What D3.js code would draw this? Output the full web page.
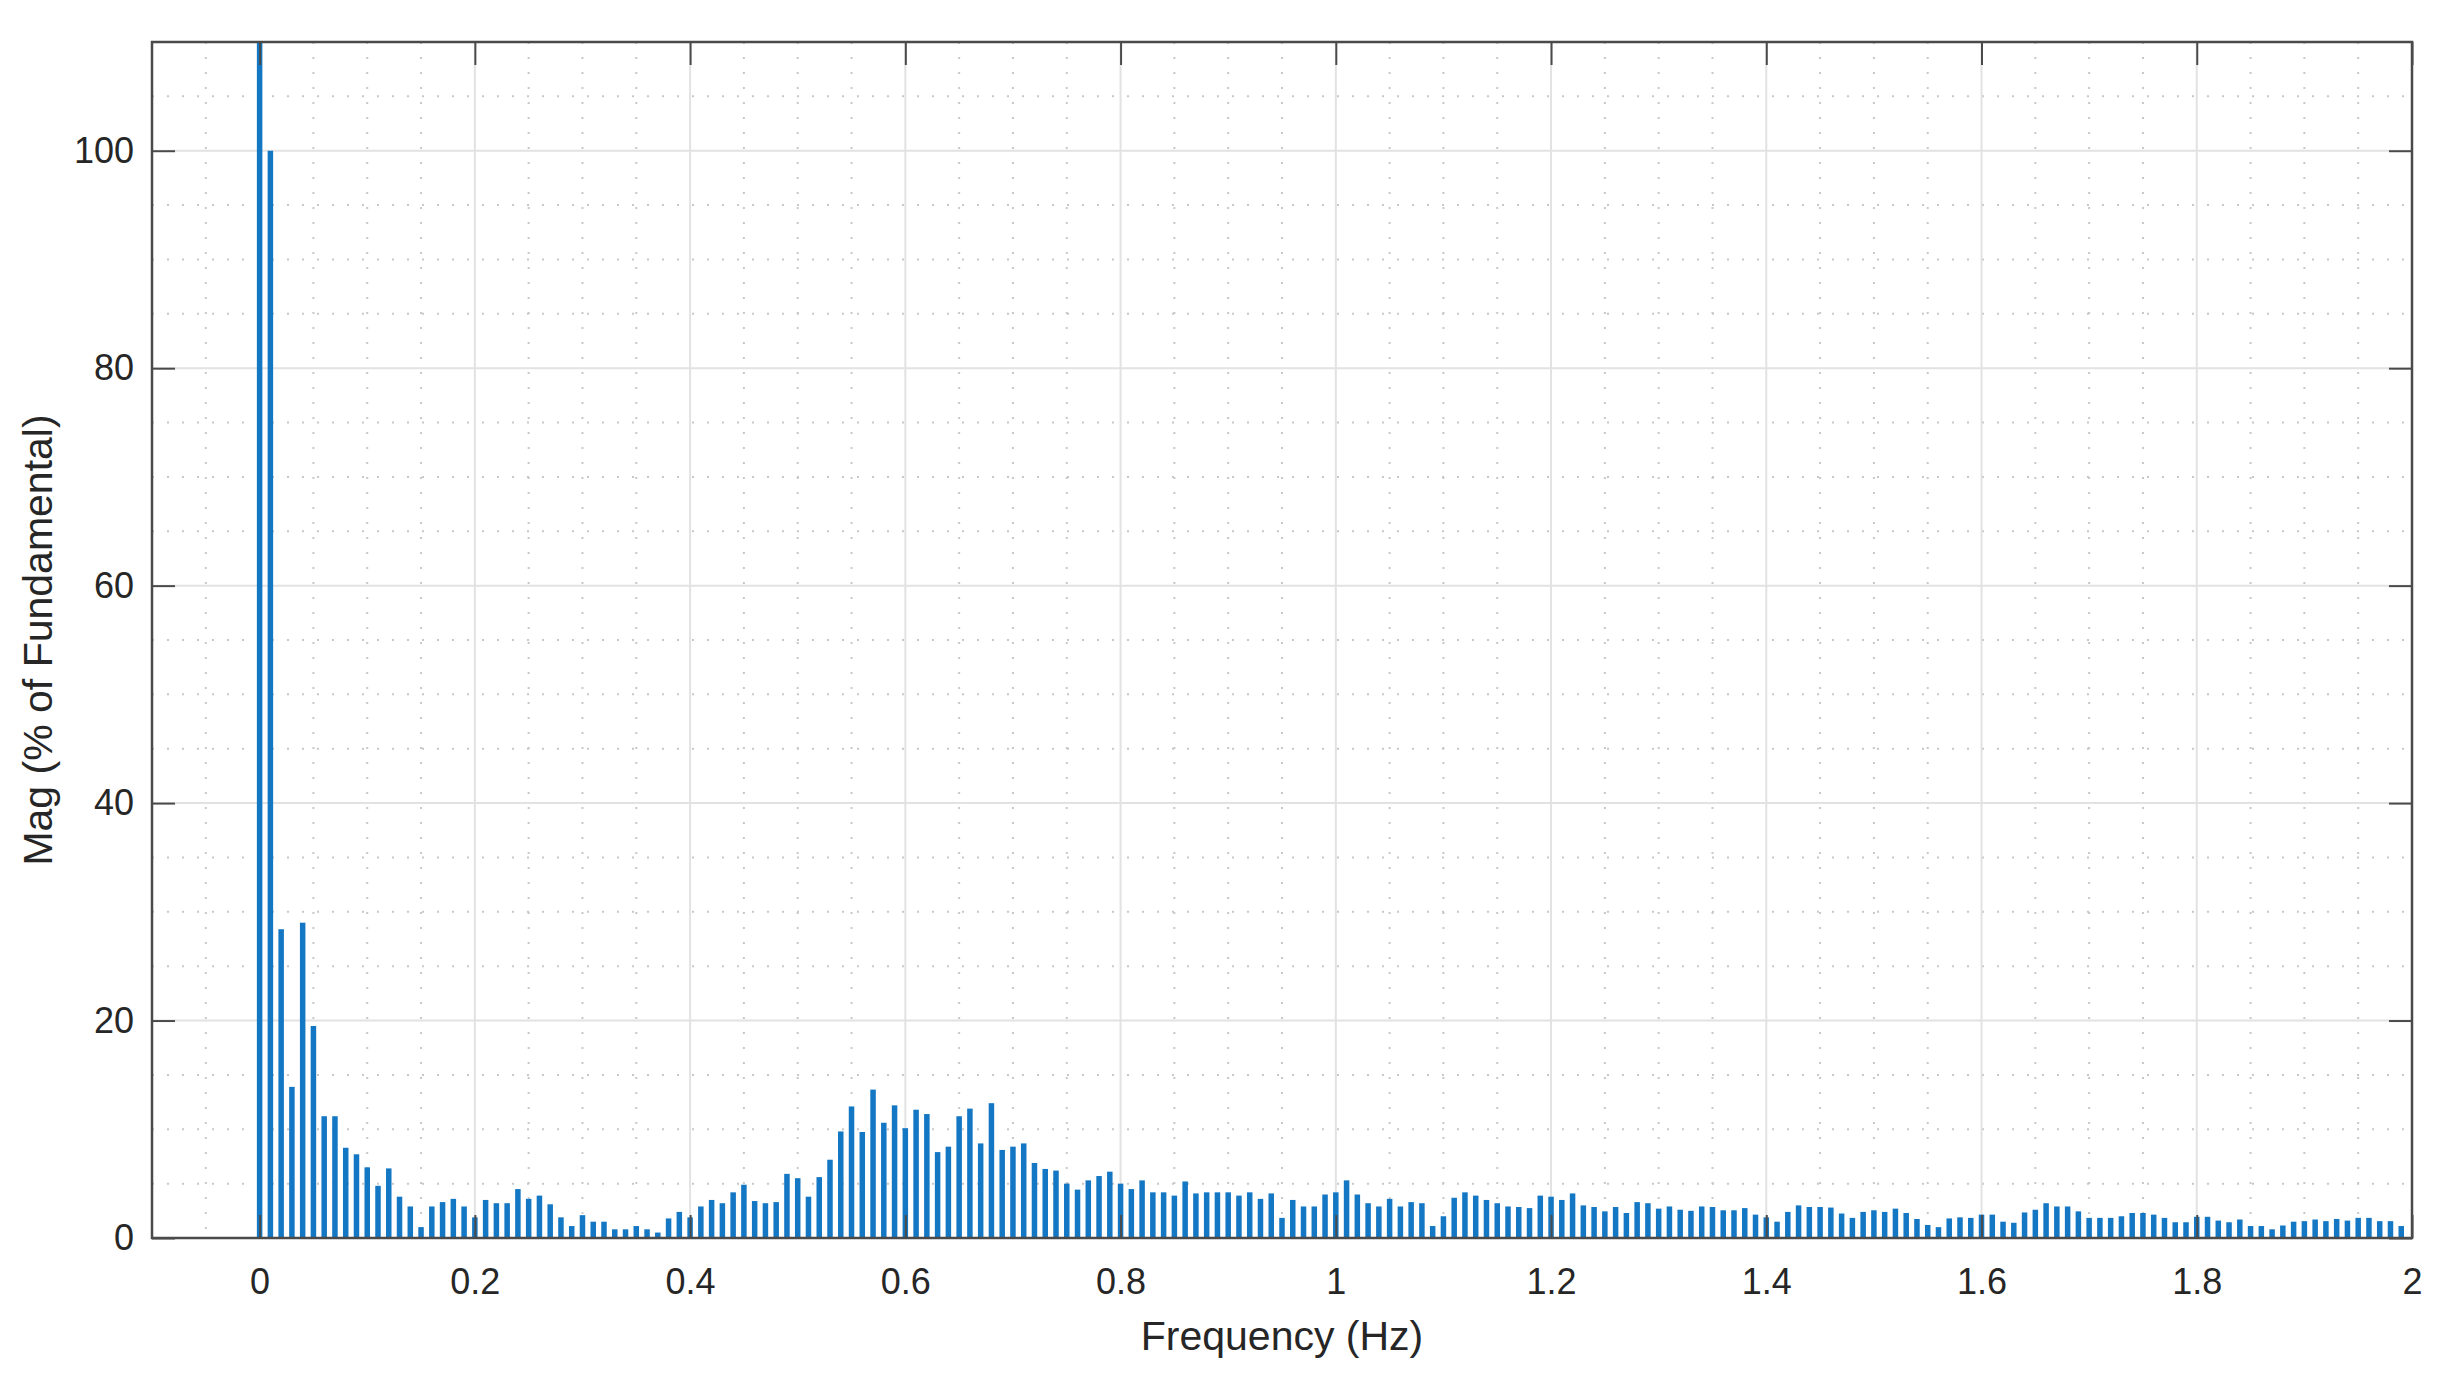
<!DOCTYPE html>
<html>
<head>
<meta charset="utf-8">
<script src="https://cdn.jsdelivr.net/npm/d3@7"></script>
<style>
    body { margin: 0; background: #ffffff; }
    svg { display: block; font-family: "Liberation Sans", Arial, Helvetica, sans-serif; }
    .tick-label { fill: #262626; font-size: 36px; }
    .axis-label { fill: #262626; font-size: 41px; }
</style>
</head>
<body>
<svg></svg>
<script>
// spectrum bins, 0.01 Hz apart, starting at 0 Hz
const binWidthHz = 0.01

// magnitude per bin (% of fundamental)
// the DC bin runs off the top of the axes, so its value is only a guess
const magnitude = [
    300, 100, 28.4, 13.9, 29.0, 19.5, 11.2, 11.2, 8.3, 7.7,
    6.5, 4.8, 6.4, 3.8, 2.9, 1.0, 2.9, 3.3, 3.6, 2.9,
    1.9, 3.5, 3.2, 3.2, 4.5, 3.6, 3.9, 3.1, 1.9, 1.1,
    2.1, 1.5, 1.5, 0.8, 0.8, 1.1, 0.8, 0.5, 1.8, 2.4,
    1.9, 2.9, 3.5, 3.2, 4.2, 4.9, 3.4, 3.2, 3.3, 5.9,
    5.5, 3.8, 5.6, 7.2, 9.8, 12.1, 9.75, 13.65, 10.6, 12.2,
    10.1, 11.8, 11.4, 7.9, 8.4, 11.2, 11.9, 8.7, 12.4, 8.1,
    8.4, 8.7, 6.9, 6.35, 6.2, 5.0, 4.45, 5.3, 5.7, 6.1,
    5.0, 4.5, 5.3, 4.2, 4.2, 3.9, 5.2, 4.1, 4.2, 4.2,
    4.2, 3.9, 4.2, 3.6, 4.1, 1.85, 3.5, 2.9, 2.9, 4.0,
    4.2, 5.3, 4.0, 3.2, 2.9, 3.6, 2.9, 3.3, 3.2, 1.1,
    2.0, 3.7, 4.2, 3.9, 3.5, 3.2, 2.9, 2.85, 2.75, 3.9,
    3.8, 3.5, 4.1, 3.0, 2.85, 2.45, 2.85, 2.3, 3.3, 3.2,
    2.7, 2.9, 2.6, 2.5, 2.9, 2.85, 2.55, 2.55, 2.75, 2.15,
    1.9, 1.5, 2.4, 3.0, 2.85, 2.85, 2.8, 2.25, 1.85, 2.4,
    2.55, 2.4, 2.7, 2.3, 1.75, 1.2, 1.0, 1.8, 1.9, 1.85,
    2.15, 2.15, 1.5, 1.4, 2.35, 2.6, 3.2, 2.9, 2.9, 2.45,
    1.85, 1.85, 1.85, 2.0, 2.3, 2.3, 2.15, 1.85, 1.45, 1.45,
    1.95, 1.95, 1.6, 1.45, 1.7, 1.1, 1.1, 0.8, 1.15, 1.5,
    1.55, 1.7, 1.55, 1.75, 1.6, 1.85, 1.85, 1.55, 1.55, 1.1
]

// axis ticks
const xTicks = [0, 0.2, 0.4, 0.6, 0.8, 1, 1.2, 1.4, 1.6, 1.8, 2]
const yTicks = [0, 20, 40, 60, 80, 100]
const xMinorTicks = [-0.05, 0.05, 0.1, 0.15, 0.25, 0.3, 0.35, 0.45, 0.5, 0.55, 0.65, 0.7, 0.75,
    0.85, 0.9, 0.95, 1.05, 1.1, 1.15, 1.25, 1.3, 1.35, 1.45, 1.5, 1.55, 1.65, 1.7, 1.75, 1.85, 1.9, 1.95]
const yMinorTicks = [5, 10, 15, 25, 30, 35, 45, 50, 55, 65, 70, 75, 85, 90, 95, 105]

const xLabel = "Frequency (Hz)"
const yLabel = "Mag (% of Fundamental)"

const data = magnitude.map((m, i) => ({ freq: i * binWidthHz, mag: m }))

const svgWidth = 2449
const svgHeight = 1382
const plotLeft = 152
const plotRight = 2412
const plotTop = 42
const plotBottom = 1238

const svg = d3.select("svg")
    .attr("width", svgWidth)
    .attr("height", svgHeight)
    .attr("viewBox", `0 0 ${svgWidth} ${svgHeight}`)

const scaleX = d3.scaleLinear()
    .domain([-0.1, 2])
    .range([plotLeft, plotRight])

const scaleY = d3.scaleLinear()
    .domain([0, 110])
    .range([plotBottom, plotTop])

svg.append("defs")
    .append("clipPath")
    .attr("id", "plot-clip")
    .append("rect")
    .attr("x", plotLeft)
    .attr("y", plotTop)
    .attr("width", plotRight - plotLeft)
    .attr("height", plotBottom - plotTop)

// minor grid, dotted
const grid = svg.append("g").attr("class", "grid")

grid.selectAll("line.minor-x")
    .data(xMinorTicks)
    .enter()
    .append("line")
    .attr("class", "minor-x")
    .attr("x1", d => scaleX(d))
    .attr("x2", d => scaleX(d))
    .attr("y1", plotTop)
    .attr("y2", plotBottom)
    .attr("stroke", "#c8c8c8")
    .attr("stroke-width", 2)
    .attr("stroke-dasharray", "2,13")

grid.selectAll("line.minor-y")
    .data(yMinorTicks)
    .enter()
    .append("line")
    .attr("class", "minor-y")
    .attr("x1", plotLeft)
    .attr("x2", plotRight)
    .attr("y1", d => scaleY(d))
    .attr("y2", d => scaleY(d))
    .attr("stroke", "#c8c8c8")
    .attr("stroke-width", 2)
    .attr("stroke-dasharray", "2,13")

// major grid, solid
grid.selectAll("line.major-x")
    .data(xTicks)
    .enter()
    .append("line")
    .attr("class", "major-x")
    .attr("x1", d => scaleX(d))
    .attr("x2", d => scaleX(d))
    .attr("y1", plotTop)
    .attr("y2", plotBottom)
    .attr("stroke", "#e2e2e2")
    .attr("stroke-width", 2)

grid.selectAll("line.major-y")
    .data(yTicks)
    .enter()
    .append("line")
    .attr("class", "major-y")
    .attr("x1", plotLeft)
    .attr("x2", plotRight)
    .attr("y1", d => scaleY(d))
    .attr("y2", d => scaleY(d))
    .attr("stroke", "#e2e2e2")
    .attr("stroke-width", 2)

// bars
const barWidth = 5.5

svg.append("g")
    .attr("class", "bars")
    .attr("clip-path", "url(#plot-clip)")
    .selectAll("rect")
    .data(data)
    .enter()
    .append("rect")
    .attr("x", d => scaleX(d.freq) - barWidth / 2)
    .attr("y", d => scaleY(d.mag))
    .attr("width", barWidth)
    .attr("height", d => scaleY(0) - scaleY(d.mag))
    .attr("fill", "#1477c4")

// axes: d3 axes on all four sides, ticks pointing inward
const tickLen = 23

const axisBottom = d3.axisBottom(scaleX)
    .tickValues(xTicks)
    .tickSizeInner(-tickLen)
    .tickSizeOuter(0)
    .tickPadding(30)
    .tickFormat(d3.format("~g"))

const axisLeft = d3.axisLeft(scaleY)
    .tickValues(yTicks)
    .tickSizeInner(-tickLen)
    .tickSizeOuter(0)
    .tickPadding(18)

const axisTop = d3.axisTop(scaleX)
    .tickValues(xTicks)
    .tickSizeInner(-tickLen)
    .tickSizeOuter(0)
    .tickFormat("")

const axisRight = d3.axisRight(scaleY)
    .tickValues(yTicks)
    .tickSizeInner(-tickLen)
    .tickSizeOuter(0)
    .tickFormat("")

const gBottom = svg.append("g")
    .attr("transform", `translate(0, ${plotBottom})`)
    .call(axisBottom)

const gLeft = svg.append("g")
    .attr("transform", `translate(${plotLeft}, 0)`)
    .call(axisLeft)

const gTop = svg.append("g")
    .attr("transform", `translate(0, ${plotTop})`)
    .call(axisTop)

const gRight = svg.append("g")
    .attr("transform", `translate(${plotRight}, 0)`)
    .call(axisRight)

;[gBottom, gLeft, gTop, gRight].forEach(g => {
    g.attr("font-family", null).attr("font-size", null)
    g.select(".domain").remove()
    g.selectAll(".tick line")
        .attr("stroke", "#4a4a4a")
        .attr("stroke-width", 2)
    g.selectAll(".tick text")
        .attr("class", "tick-label")
        .attr("fill", null)
})

// box round the axes
svg.append("rect")
    .attr("x", plotLeft)
    .attr("y", plotTop)
    .attr("width", plotRight - plotLeft)
    .attr("height", plotBottom - plotTop)
    .attr("fill", "none")
    .attr("stroke", "#4a4a4a")
    .attr("stroke-width", 2.5)

// axis titles
svg.append("text")
    .attr("class", "axis-label")
    .attr("text-anchor", "middle")
    .attr("x", (plotLeft + plotRight) / 2)
    .attr("y", 1350)
    .text(xLabel)

svg.append("text")
    .attr("class", "axis-label")
    .attr("text-anchor", "middle")
    .attr("transform", `translate(52, ${(plotTop + plotBottom) / 2}) rotate(-90)`)
    .text(yLabel)
</script>
</body>
</html>
